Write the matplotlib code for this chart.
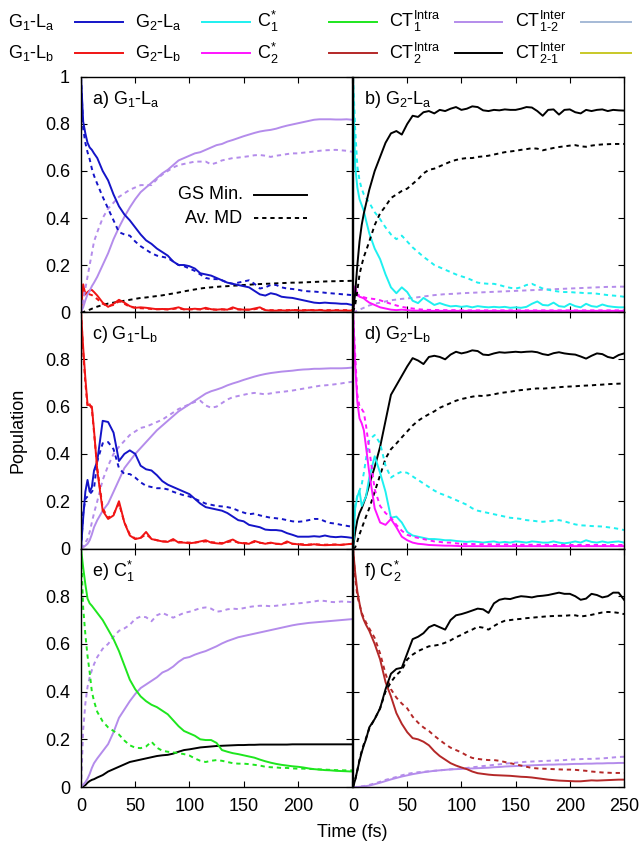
import matplotlib
matplotlib.use("Agg")
import matplotlib.pyplot as plt
from matplotlib.lines import Line2D

plt.rcParams['font.family'] = ['Liberation Sans', 'DejaVu Sans']
plt.rcParams['mathtext.fontset'] = 'custom'
plt.rcParams['mathtext.rm'] = 'Liberation Sans'
plt.rcParams['mathtext.it'] = 'Liberation Sans'
plt.rcParams['font.size'] = 13

# time grid (fs)
t = [0, 2, 4, 6, 8, 10, 12, 15,
     20, 25, 30, 35, 40, 45, 50, 55, 60, 65,
     70, 75, 80, 85, 90, 95, 100, 105, 110, 115,
     120, 125, 130, 135, 140, 145, 150, 155, 160, 165,
     170, 175, 180, 185, 190, 195, 200, 205, 210, 215,
     220, 225, 230, 235, 240, 245, 250]

# ---- panel a) G1-La ----
a_g1la_gs = [1.0, 0.81, 0.76, 0.72, 0.70, 0.69, 0.675, 0.655,
             0.60, 0.56, 0.50, 0.45, 0.415, 0.39, 0.36, 0.33, 0.305, 0.29,
             0.27, 0.255, 0.24, 0.215, 0.20, 0.20, 0.195, 0.185, 0.165, 0.16,
             0.155, 0.145, 0.135, 0.125, 0.12, 0.115, 0.11, 0.105, 0.09, 0.075,
             0.07, 0.08, 0.075, 0.065, 0.062, 0.06, 0.055, 0.05, 0.045, 0.04,
             0.038, 0.04, 0.038, 0.037, 0.035, 0.035, 0.03]
a_g1la_md = [1.0, 0.78, 0.72, 0.68, 0.65, 0.61, 0.58, 0.545,
             0.49, 0.44, 0.39, 0.34, 0.33, 0.325, 0.30, 0.28, 0.265, 0.25,
             0.24, 0.235, 0.23, 0.215, 0.20, 0.195, 0.185, 0.175, 0.16, 0.145,
             0.14, 0.14, 0.135, 0.125, 0.12, 0.125, 0.13, 0.135, 0.12, 0.10,
             0.105, 0.115, 0.115, 0.105, 0.10, 0.098, 0.095, 0.09, 0.088, 0.087,
             0.085, 0.082, 0.08, 0.078, 0.076, 0.074, 0.072]
a_g1lb_gs = [0.0, 0.118, 0.075, 0.085, 0.092, 0.094, 0.085, 0.07,
             0.04, 0.022, 0.035, 0.052, 0.04, 0.025, 0.018, 0.02, 0.018, 0.015,
             0.012, 0.013, 0.012, 0.015, 0.02, 0.012, 0.012, 0.014, 0.012, 0.018,
             0.012, 0.01, 0.012, 0.01, 0.02, 0.012, 0.01, 0.01, 0.015, 0.02,
             0.008, 0.006, 0.006, 0.007, 0.006, 0.008, 0.007, 0.006, 0.008, 0.007,
             0.008, 0.006, 0.006, 0.007, 0.006, 0.006, 0.006]
a_g1lb_md = [0.0, 0.06, 0.085, 0.08, 0.075, 0.072, 0.065, 0.055,
             0.035, 0.025, 0.03, 0.045, 0.035, 0.022, 0.018, 0.016, 0.015, 0.013,
             0.012, 0.012, 0.011, 0.013, 0.016, 0.011, 0.011, 0.012, 0.011, 0.014,
             0.011, 0.01, 0.011, 0.01, 0.015, 0.011, 0.01, 0.01, 0.012, 0.016,
             0.009, 0.008, 0.008, 0.008, 0.008, 0.009, 0.008, 0.008, 0.009, 0.008,
             0.009, 0.008, 0.008, 0.008, 0.008, 0.008, 0.008]
a_ct1_gs = [0.0, 0.02, 0.05, 0.075, 0.09, 0.11, 0.125, 0.15,
            0.2, 0.25, 0.31, 0.36, 0.405, 0.445, 0.48, 0.51, 0.53, 0.55,
            0.57, 0.59, 0.605, 0.625, 0.645, 0.655, 0.665, 0.675, 0.68, 0.69,
            0.70, 0.71, 0.715, 0.725, 0.732, 0.74, 0.748, 0.755, 0.762, 0.768,
            0.772, 0.775, 0.78, 0.787, 0.793, 0.798, 0.803, 0.808, 0.813, 0.818,
            0.82, 0.82, 0.82, 0.819, 0.819, 0.82, 0.818]
a_ct1_md = [0.0, 0.05, 0.1, 0.15, 0.2, 0.25, 0.3, 0.34,
            0.4, 0.44, 0.465, 0.49, 0.505, 0.52, 0.53, 0.54, 0.54, 0.54,
            0.565, 0.585, 0.60, 0.615, 0.625, 0.63, 0.635, 0.64, 0.64, 0.64,
            0.628, 0.635, 0.645, 0.65, 0.655, 0.657, 0.66, 0.663, 0.667, 0.668,
            0.665, 0.66, 0.665, 0.668, 0.672, 0.675, 0.675, 0.678, 0.68, 0.683,
            0.686, 0.688, 0.689, 0.69, 0.688, 0.686, 0.682]
a_ct2_md = [0.0, 0.0, 0.003, 0.006, 0.01, 0.014, 0.018, 0.023,
            0.03, 0.036, 0.04, 0.044, 0.048, 0.052, 0.056, 0.06, 0.062, 0.065,
            0.068, 0.071, 0.075, 0.079, 0.083, 0.088, 0.092, 0.096, 0.1, 0.103,
            0.105, 0.107, 0.109, 0.11, 0.112, 0.113, 0.115, 0.116, 0.118, 0.119,
            0.12, 0.121, 0.122, 0.123, 0.124, 0.125, 0.125, 0.126, 0.127, 0.128,
            0.129, 0.13, 0.131, 0.131, 0.132, 0.132, 0.133]

# ---- panel b) G2-La ----
b_ct2_gs = [0.0, 0.08, 0.2, 0.3, 0.37, 0.42, 0.46, 0.52,
            0.6, 0.66, 0.72, 0.76, 0.77, 0.755, 0.8, 0.835, 0.83, 0.85,
            0.855, 0.845, 0.86, 0.855, 0.865, 0.872, 0.86, 0.865, 0.875, 0.872,
            0.858, 0.855, 0.86, 0.858, 0.862, 0.86, 0.86, 0.865, 0.872, 0.87,
            0.855, 0.835, 0.86, 0.862, 0.84, 0.86, 0.862, 0.85, 0.845, 0.86,
            0.855, 0.86, 0.862, 0.855, 0.86, 0.858, 0.857]
b_ct2_md = [0.0, 0.03, 0.09, 0.16, 0.2, 0.235, 0.26, 0.3,
            0.37, 0.42, 0.45, 0.485, 0.5, 0.515, 0.525, 0.545, 0.565, 0.59,
            0.605, 0.61, 0.62, 0.63, 0.64, 0.647, 0.652, 0.655, 0.655, 0.66,
            0.662, 0.665, 0.67, 0.675, 0.68, 0.683, 0.686, 0.69, 0.693, 0.697,
            0.695, 0.688, 0.693, 0.698, 0.702, 0.705, 0.708, 0.71, 0.705, 0.703,
            0.708, 0.711, 0.713, 0.714, 0.715, 0.715, 0.715]
b_g2la_gs = [1.0, 0.62, 0.53, 0.48, 0.455, 0.43, 0.39, 0.335,
             0.27, 0.225, 0.16, 0.105, 0.08, 0.105, 0.085, 0.048, 0.038, 0.06,
             0.045, 0.03, 0.038, 0.03, 0.024, 0.026, 0.022, 0.025, 0.02, 0.025,
             0.022, 0.02, 0.022, 0.02, 0.022, 0.018, 0.02, 0.018, 0.022, 0.035,
             0.045, 0.03, 0.028, 0.04, 0.025, 0.022, 0.035, 0.025, 0.02, 0.035,
             0.025, 0.022, 0.032, 0.025, 0.022, 0.02, 0.02]
b_g2la_md = [1.0, 0.78, 0.62, 0.56, 0.525, 0.5, 0.485, 0.465,
             0.425, 0.395, 0.36, 0.33, 0.31, 0.325, 0.3, 0.275, 0.255, 0.235,
             0.218, 0.2, 0.19, 0.18, 0.17, 0.16, 0.152, 0.145, 0.135, 0.125,
             0.122, 0.12, 0.12, 0.115, 0.108, 0.103, 0.1, 0.105, 0.115, 0.12,
             0.11, 0.1, 0.095, 0.09, 0.087, 0.085, 0.085, 0.083, 0.082, 0.08,
             0.08, 0.078, 0.075, 0.072, 0.07, 0.068, 0.065]
b_g2lb_gs = [0.0, 0.11, 0.075, 0.065, 0.062, 0.058, 0.05, 0.04,
             0.03, 0.02, 0.015, 0.01, 0.008, 0.01, 0.008, 0.006, 0.006, 0.005,
             0.005, 0.005, 0.005, 0.005, 0.005, 0.005, 0.005, 0.005, 0.005, 0.005,
             0.005, 0.005, 0.005, 0.005, 0.005, 0.005, 0.005, 0.005, 0.005, 0.005,
             0.005, 0.005, 0.005, 0.005, 0.005, 0.005, 0.005, 0.005, 0.005, 0.005,
             0.005, 0.005, 0.005, 0.005, 0.005, 0.005, 0.005]
b_g2lb_md = [0.0, 0.05, 0.075, 0.07, 0.065, 0.063, 0.06, 0.058,
             0.055, 0.05, 0.042, 0.035, 0.028, 0.022, 0.018, 0.015, 0.012, 0.01,
             0.009, 0.009, 0.008, 0.008, 0.008, 0.008, 0.007, 0.007, 0.007, 0.007,
             0.007, 0.007, 0.007, 0.007, 0.007, 0.007, 0.007, 0.007, 0.007, 0.007,
             0.007, 0.007, 0.007, 0.007, 0.007, 0.007, 0.007, 0.007, 0.007, 0.007,
             0.007, 0.007, 0.007, 0.007, 0.007, 0.007, 0.007]
b_ct1_md = [0.0, 0.002, 0.005, 0.01, 0.014, 0.018, 0.022, 0.028,
            0.035, 0.04, 0.045, 0.05, 0.053, 0.056, 0.058, 0.06, 0.063, 0.066,
            0.069, 0.072, 0.074, 0.076, 0.077, 0.078, 0.08, 0.081, 0.082, 0.083,
            0.084, 0.085, 0.086, 0.087, 0.088, 0.089, 0.09, 0.091, 0.092, 0.093,
            0.094, 0.095, 0.096, 0.097, 0.098, 0.099, 0.1, 0.101, 0.102, 0.103,
            0.104, 0.105, 0.106, 0.107, 0.107, 0.108, 0.108]

# ---- panel c) G1-Lb ----
c_g1lb_gs = [1.0, 0.85, 0.72, 0.61, 0.605, 0.6, 0.5, 0.33,
             0.16, 0.125, 0.14, 0.2, 0.11, 0.055, 0.04, 0.045, 0.07, 0.04,
             0.035, 0.03, 0.028, 0.04, 0.025, 0.025, 0.022, 0.025, 0.03, 0.035,
             0.025, 0.022, 0.02, 0.03, 0.038, 0.025, 0.022, 0.02, 0.032, 0.025,
             0.02, 0.025, 0.02, 0.018, 0.03, 0.02, 0.018, 0.015, 0.015, 0.018,
             0.015, 0.014, 0.015, 0.016, 0.015, 0.018, 0.02]
c_g1lb_md = [1.0, 0.83, 0.7, 0.6, 0.61, 0.59, 0.49, 0.34,
             0.17, 0.13, 0.145, 0.19, 0.11, 0.06, 0.042, 0.045, 0.06, 0.042,
             0.035, 0.03, 0.03, 0.035, 0.028, 0.027, 0.025, 0.025, 0.028, 0.03,
             0.027, 0.025, 0.023, 0.027, 0.032, 0.025, 0.023, 0.022, 0.028, 0.024,
             0.022, 0.023, 0.02, 0.02, 0.025, 0.02, 0.019, 0.018, 0.017, 0.018,
             0.017, 0.016, 0.017, 0.017, 0.016, 0.018, 0.02]
c_g1la_gs = [0.0, 0.13, 0.24, 0.29, 0.24, 0.26, 0.33, 0.37,
             0.54, 0.535, 0.49, 0.37, 0.40, 0.415, 0.40, 0.35, 0.335, 0.33,
             0.31, 0.285, 0.27, 0.26, 0.25, 0.24, 0.23, 0.21, 0.19, 0.175,
             0.17, 0.165, 0.16, 0.15, 0.135, 0.12, 0.115, 0.1, 0.095, 0.09,
             0.08, 0.078, 0.078, 0.075, 0.065, 0.058, 0.05, 0.05, 0.05, 0.052,
             0.05, 0.055, 0.05, 0.048, 0.05, 0.048, 0.045]
c_g1la_md = [0.0, 0.15, 0.21, 0.22, 0.23, 0.24, 0.255, 0.37,
             0.445, 0.45, 0.42, 0.34, 0.315, 0.315, 0.3, 0.28, 0.265, 0.26,
             0.255, 0.255, 0.25, 0.24, 0.232, 0.225, 0.22, 0.21, 0.2, 0.19,
             0.185, 0.18, 0.178, 0.175, 0.17, 0.16, 0.152, 0.145, 0.148, 0.14,
             0.135, 0.13, 0.128, 0.125, 0.12, 0.115, 0.113, 0.115, 0.12, 0.125,
             0.125, 0.115, 0.108, 0.105, 0.1, 0.096, 0.092]
c_ct1_gs = [0.0, 0.005, 0.012, 0.02, 0.035, 0.06, 0.09, 0.12,
            0.16, 0.19, 0.24, 0.29, 0.34, 0.37, 0.40, 0.425, 0.45, 0.475,
            0.50, 0.52, 0.54, 0.56, 0.58, 0.595, 0.61, 0.625, 0.64, 0.655,
            0.665, 0.672, 0.68, 0.69, 0.698, 0.705, 0.713, 0.72, 0.727, 0.733,
            0.738, 0.742, 0.745, 0.748, 0.75, 0.752, 0.755, 0.757, 0.758, 0.76,
            0.76, 0.761, 0.762, 0.762, 0.762, 0.763, 0.765]
c_ct1_md = [0.0, 0.01, 0.025, 0.04, 0.07, 0.11, 0.15, 0.2,
            0.29, 0.35, 0.4, 0.43, 0.455, 0.48, 0.495, 0.51, 0.515, 0.525,
            0.535, 0.545, 0.56, 0.575, 0.59, 0.6, 0.61, 0.62, 0.625, 0.605,
            0.595, 0.6, 0.615, 0.63, 0.64, 0.645, 0.65, 0.655, 0.658, 0.655,
            0.652, 0.656, 0.66, 0.662, 0.665, 0.668, 0.672, 0.676, 0.68, 0.684,
            0.688, 0.69, 0.692, 0.695, 0.698, 0.702, 0.705]

# ---- panel d) G2-Lb ----
d_g2lb_gs = [1.0, 0.78, 0.62, 0.55, 0.53, 0.5, 0.43, 0.32,
             0.17, 0.11, 0.1, 0.125, 0.09, 0.05, 0.035, 0.025, 0.02, 0.018,
             0.015, 0.014, 0.013, 0.012, 0.012, 0.011, 0.01, 0.01, 0.01, 0.01,
             0.01, 0.01, 0.01, 0.01, 0.01, 0.01, 0.01, 0.01, 0.01, 0.01,
             0.01, 0.01, 0.01, 0.01, 0.01, 0.01, 0.01, 0.01, 0.01, 0.01,
             0.01, 0.01, 0.01, 0.01, 0.01, 0.01, 0.01]
d_g2lb_md = [1.0, 0.82, 0.65, 0.6, 0.59, 0.575, 0.52, 0.42,
             0.25, 0.18, 0.15, 0.13, 0.1, 0.075, 0.058, 0.05, 0.045, 0.04,
             0.035, 0.03, 0.028, 0.025, 0.025, 0.022, 0.02, 0.019, 0.019, 0.018,
             0.018, 0.018, 0.017, 0.017, 0.017, 0.017, 0.016, 0.016, 0.016, 0.016,
             0.016, 0.016, 0.015, 0.015, 0.015, 0.015, 0.015, 0.015, 0.015, 0.015,
             0.015, 0.015, 0.015, 0.015, 0.015, 0.015, 0.015]
d_g2la_gs = [0.0, 0.17, 0.22, 0.245, 0.18, 0.2, 0.22, 0.3,
             0.39, 0.32, 0.24, 0.13, 0.135, 0.11, 0.07, 0.055, 0.05, 0.045,
             0.04, 0.04, 0.038, 0.035, 0.035, 0.032, 0.03, 0.028, 0.03, 0.028,
             0.025, 0.028, 0.03, 0.025, 0.028, 0.025, 0.03, 0.028, 0.025, 0.03,
             0.028, 0.025, 0.025, 0.03, 0.025, 0.022, 0.025, 0.03, 0.025, 0.035,
             0.028, 0.025, 0.03, 0.025, 0.028, 0.03, 0.025]
d_g2la_md = [0.0, 0.18, 0.225, 0.245, 0.27, 0.32, 0.38, 0.46,
             0.48, 0.445, 0.35, 0.3, 0.315, 0.325, 0.32, 0.305, 0.29, 0.275,
             0.26, 0.245, 0.233, 0.225, 0.215, 0.205, 0.195, 0.185, 0.17, 0.16,
             0.155, 0.15, 0.145, 0.14, 0.135, 0.13, 0.128, 0.125, 0.12, 0.118,
             0.115, 0.113, 0.115, 0.118, 0.12, 0.115, 0.108, 0.102, 0.098, 0.097,
             0.095, 0.094, 0.093, 0.09, 0.087, 0.083, 0.078]
d_ct2_gs = [0.0, 0.07, 0.12, 0.15, 0.17, 0.195, 0.22, 0.27,
            0.345, 0.43, 0.54, 0.65, 0.69, 0.73, 0.77, 0.805, 0.795, 0.78,
            0.81, 0.815, 0.81, 0.8, 0.82, 0.832, 0.825, 0.83, 0.838, 0.835,
            0.82, 0.818, 0.825, 0.83, 0.828, 0.83, 0.832, 0.83, 0.832, 0.833,
            0.83, 0.822, 0.818, 0.826, 0.83, 0.825, 0.822, 0.82, 0.812, 0.803,
            0.815, 0.825, 0.822, 0.81, 0.805, 0.818, 0.825]
d_ct2_md = [0.0, 0.005, 0.03, 0.06, 0.085, 0.11, 0.135, 0.17,
            0.24, 0.31, 0.38, 0.42, 0.444, 0.47, 0.495, 0.52, 0.54, 0.555,
            0.568, 0.58, 0.595, 0.605, 0.615, 0.625, 0.632, 0.637, 0.642, 0.646,
            0.645, 0.648, 0.652, 0.657, 0.66, 0.663, 0.667, 0.67, 0.672, 0.675,
            0.677, 0.676, 0.678, 0.68, 0.682, 0.684, 0.685, 0.686, 0.688, 0.689,
            0.69, 0.692, 0.693, 0.695, 0.696, 0.697, 0.698]

# ---- panel e) C1* ----
e_c1_gs = [1.0, 0.92, 0.85, 0.79, 0.77, 0.76, 0.748, 0.73,
           0.7, 0.66, 0.62, 0.57, 0.51, 0.45, 0.41, 0.38, 0.36, 0.345,
           0.335, 0.32, 0.305, 0.28, 0.255, 0.235, 0.225, 0.215, 0.2, 0.197,
           0.197, 0.185, 0.155, 0.148, 0.142, 0.138, 0.133, 0.128, 0.123, 0.115,
           0.108, 0.102, 0.097, 0.093, 0.09, 0.087, 0.085, 0.082, 0.078, 0.075,
           0.073, 0.071, 0.07, 0.068, 0.067, 0.066, 0.065]
e_c1_md = [1.0, 0.75, 0.64, 0.55, 0.48, 0.4, 0.36, 0.315,
           0.275, 0.25, 0.235, 0.22, 0.195, 0.175, 0.165, 0.163, 0.17, 0.19,
           0.165, 0.152, 0.148, 0.145, 0.142, 0.138, 0.132, 0.12, 0.11, 0.105,
           0.11, 0.113, 0.11, 0.105, 0.1, 0.098, 0.098, 0.096, 0.093, 0.09,
           0.085, 0.083, 0.082, 0.08, 0.08, 0.078, 0.077, 0.077, 0.076, 0.075,
           0.074, 0.073, 0.072, 0.071, 0.07, 0.07, 0.07]
e_ct1_gs = [0.0, 0.01, 0.02, 0.035, 0.055, 0.08, 0.1, 0.12,
            0.15, 0.18, 0.23, 0.29, 0.325, 0.36, 0.39, 0.415, 0.43, 0.445,
            0.46, 0.48, 0.49, 0.505, 0.525, 0.54, 0.545, 0.555, 0.563, 0.57,
            0.58, 0.59, 0.602, 0.612, 0.62, 0.628, 0.633, 0.638, 0.643, 0.648,
            0.653, 0.658, 0.663, 0.668, 0.673, 0.678, 0.682, 0.685, 0.688, 0.69,
            0.692, 0.694, 0.696, 0.698, 0.7, 0.702, 0.704]
e_ct1_md = [0.0, 0.24, 0.35, 0.42, 0.46, 0.49, 0.515, 0.545,
            0.58, 0.6, 0.63, 0.655, 0.665, 0.68, 0.705, 0.715, 0.712, 0.695,
            0.72, 0.73, 0.72, 0.71, 0.72, 0.73, 0.735, 0.742, 0.75, 0.753,
            0.748, 0.735, 0.738, 0.745, 0.748, 0.746, 0.75, 0.755, 0.758, 0.76,
            0.76, 0.758, 0.76, 0.763, 0.766, 0.768, 0.77, 0.772, 0.775, 0.778,
            0.782, 0.78, 0.776, 0.775, 0.778, 0.777, 0.775]
e_ct2_gs = [0.0, 0.003, 0.008, 0.018, 0.025, 0.03, 0.033, 0.04,
            0.05, 0.065, 0.075, 0.085, 0.095, 0.105, 0.11, 0.115, 0.12, 0.125,
            0.13, 0.133, 0.135, 0.14, 0.148, 0.155, 0.158, 0.162, 0.166, 0.168,
            0.17, 0.172, 0.173, 0.174, 0.175, 0.176, 0.176, 0.177, 0.177, 0.178,
            0.178, 0.178, 0.178, 0.178, 0.178, 0.179, 0.179, 0.179, 0.179, 0.179,
            0.179, 0.179, 0.179, 0.179, 0.179, 0.179, 0.179]

# ---- panel f) C2* ----
f_c2_gs = [1.0, 0.9, 0.82, 0.77, 0.725, 0.7, 0.68, 0.655,
           0.6, 0.535, 0.44, 0.38, 0.31, 0.265, 0.23, 0.205, 0.2, 0.19,
           0.175, 0.15, 0.13, 0.115, 0.1, 0.09, 0.082, 0.075, 0.065, 0.058,
           0.055, 0.052, 0.05, 0.049, 0.048, 0.047, 0.045, 0.043, 0.042, 0.04,
           0.037, 0.034, 0.031, 0.029, 0.027, 0.026, 0.025, 0.024, 0.024, 0.026,
           0.028, 0.027, 0.028, 0.029, 0.03, 0.031, 0.031]
f_c2_md = [1.0, 0.88, 0.8, 0.765, 0.73, 0.71, 0.69, 0.665,
           0.625, 0.56, 0.475, 0.41, 0.375, 0.35, 0.33, 0.295, 0.27, 0.25,
           0.235, 0.215, 0.197, 0.18, 0.165, 0.155, 0.145, 0.132, 0.122, 0.118,
           0.115, 0.113, 0.113, 0.11, 0.105, 0.1, 0.095, 0.09, 0.085, 0.08,
           0.078, 0.077, 0.076, 0.075, 0.074, 0.073, 0.073, 0.072, 0.07, 0.068,
           0.065, 0.063, 0.061, 0.06, 0.059, 0.059, 0.059]
f_ct2_gs = [0.0, 0.03, 0.07, 0.11, 0.145, 0.175, 0.2, 0.25,
            0.285, 0.33, 0.41, 0.475, 0.495, 0.5, 0.56, 0.62, 0.63, 0.645,
            0.67, 0.68, 0.67, 0.66, 0.7, 0.72, 0.725, 0.732, 0.74, 0.748,
            0.745, 0.73, 0.77, 0.785, 0.79, 0.788, 0.795, 0.8, 0.798, 0.795,
            0.8, 0.802, 0.805, 0.81, 0.815, 0.81, 0.81, 0.8, 0.785, 0.79,
            0.81, 0.805, 0.795, 0.8, 0.815, 0.815, 0.785]
f_ct2_md = [0.0, 0.03, 0.07, 0.115, 0.15, 0.18, 0.205, 0.245,
            0.285, 0.33, 0.4, 0.44, 0.47, 0.49, 0.535, 0.555, 0.57, 0.58,
            0.59, 0.593, 0.597, 0.605, 0.615, 0.628, 0.638, 0.65, 0.66, 0.672,
            0.668, 0.66, 0.675, 0.688, 0.697, 0.7, 0.703, 0.705, 0.708, 0.71,
            0.712, 0.714, 0.716, 0.717, 0.718, 0.718, 0.72, 0.72, 0.715, 0.718,
            0.722, 0.727, 0.732, 0.734, 0.733, 0.73, 0.725]
f_ct1_gs = [0.0, 0.0, 0.0, 0.001, 0.002, 0.003, 0.004, 0.006,
            0.012, 0.018, 0.025, 0.032, 0.038, 0.044, 0.049, 0.054, 0.058, 0.062,
            0.065, 0.068, 0.07, 0.072, 0.074, 0.075, 0.076, 0.077, 0.078, 0.079,
            0.08, 0.081, 0.083, 0.084, 0.086, 0.087, 0.088, 0.089, 0.09, 0.091,
            0.092, 0.093, 0.094, 0.094, 0.095, 0.095, 0.096, 0.097, 0.097, 0.098,
            0.098, 0.099, 0.099, 0.1, 0.1, 0.101, 0.101]
f_ct1_md = [0.0, 0.0, 0.001, 0.002, 0.003, 0.004, 0.006, 0.009,
            0.015, 0.022, 0.03, 0.036, 0.042, 0.049, 0.055, 0.059, 0.062, 0.064,
            0.066, 0.068, 0.07, 0.072, 0.074, 0.076, 0.078, 0.08, 0.083, 0.085,
            0.088, 0.09, 0.093, 0.095, 0.098, 0.1, 0.102, 0.104, 0.106, 0.107,
            0.108, 0.109, 0.11, 0.111, 0.112, 0.113, 0.115, 0.116, 0.117, 0.118,
            0.118, 0.119, 0.12, 0.122, 0.124, 0.126, 0.127]

# colours (gnuplot-like)
BLUE = '#1414c8'
RED = '#f01414'
CYAN = '#1ef0f0'
MAGENTA = '#ff14ff'
GREEN = '#1ee61e'
BROWN = '#b42828'
VIOLET = '#b48ceb'
STEEL = '#a5bad6'
OLIVE = '#c8c828'
BLACK = '#000000'

DASH = (0, (2.2, 2.0))
LW = 1.4

fig = plt.figure(figsize=(6.43, 8.44), dpi=100)

xl, xr, w = 0.126, 0.549, 0.4215
rows = [(0.6303, 0.2785), (0.3501, 0.2802), (0.0675, 0.2826)]

panels = [
    ('a', 0, 0, r'a) G$_\mathrm{1}$-L$_\mathrm{a}$',
     [(a_ct2_md, BLACK, DASH), (a_g1lb_md, RED, DASH), (a_g1lb_gs, RED, '-'),
      (a_ct1_md, VIOLET, DASH), (a_ct1_gs, VIOLET, '-'),
      (a_g1la_md, BLUE, DASH), (a_g1la_gs, BLUE, '-')]),
    ('b', 0, 1, r'b) G$_\mathrm{2}$-L$_\mathrm{a}$',
     [(b_ct1_md, VIOLET, DASH), (b_g2lb_md, MAGENTA, DASH), (b_g2lb_gs, MAGENTA, '-'),
      (b_g2la_md, CYAN, DASH), (b_g2la_gs, CYAN, '-'),
      (b_ct2_md, BLACK, DASH), (b_ct2_gs, BLACK, '-')]),
    ('c', 1, 0, r'c) G$_\mathrm{1}$-L$_\mathrm{b}$',
     [(c_ct1_md, VIOLET, DASH), (c_ct1_gs, VIOLET, '-'),
      (c_g1la_md, BLUE, DASH), (c_g1la_gs, BLUE, '-'),
      (c_g1lb_md, RED, DASH), (c_g1lb_gs, RED, '-')]),
    ('d', 1, 1, r'd) G$_\mathrm{2}$-L$_\mathrm{b}$',
     [(d_ct2_md, BLACK, DASH), (d_ct2_gs, BLACK, '-'),
      (d_g2la_md, CYAN, DASH), (d_g2la_gs, CYAN, '-'),
      (d_g2lb_md, MAGENTA, DASH), (d_g2lb_gs, MAGENTA, '-')]),
    ('e', 2, 0, r'e) C$_\mathrm{1}^\mathrm{*}$',
     [(e_ct2_gs, BLACK, '-'), (e_ct1_md, VIOLET, DASH), (e_ct1_gs, VIOLET, '-'),
      (e_c1_md, GREEN, DASH), (e_c1_gs, GREEN, '-')]),
    ('f', 2, 1, r'f) C$_\mathrm{2}^\mathrm{*}$',
     [(f_ct1_md, VIOLET, DASH), (f_ct1_gs, VIOLET, '-'),
      (f_c2_md, BROWN, DASH), (f_c2_gs, BROWN, '-'),
      (f_ct2_md, BLACK, DASH), (f_ct2_gs, BLACK, '-')]),
]

axes = {}
for key, r, c, label, curves in panels:
    b, h = rows[r]
    ax = fig.add_axes([xl if c == 0 else xr, b, w, h])
    axes[key] = ax
    for vals, col, ls in curves:
        ax.plot(t, vals, color=col, ls=ls, lw=LW)
    ax.set_xlim(0, 250)
    ax.set_ylim(0, 1)
    ax.set_xticks([0, 50, 100, 150, 200, 250])
    ax.set_yticks([0, 0.2, 0.4, 0.6, 0.8, 1.0])
    ax.tick_params(direction='in', length=4, width=0.8, top=True, right=True,
                   labelsize=13, pad=8)
    for s in ax.spines.values():
        s.set_linewidth(1.0)
    ax.text(0.042, 0.905, label, transform=ax.transAxes, fontsize=13,
            ha='left', va='center')

    if c == 0:
        ylabs = ['0', '0.2', '0.4', '0.6', '0.8', '1' if r == 0 else '']
        ax.set_yticklabels(ylabs)
    else:
        ax.set_yticklabels([])
    if r == 2:
        if c == 0:
            ax.set_xticklabels(['0', '50', '100', '150', '200', ''])
        else:
            ax.set_xticklabels(['0', '50', '100', '150', '200', '250'])
    else:
        ax.set_xticklabels([])

# line style key inside panel a
axa = axes['a']
axa.text(0.596, 0.498, 'GS Min.', transform=axa.transAxes, ha='right', va='center')
axa.plot([0.64, 0.835], [0.498, 0.498], transform=axa.transAxes, color=BLACK, lw=LW)
axa.text(0.596, 0.40, 'Av. MD', transform=axa.transAxes, ha='right', va='center')
axa.plot([0.64, 0.835], [0.40, 0.40], transform=axa.transAxes, color=BLACK, lw=LW, ls=DASH)

fig.text(0.028, 0.49, 'Population', rotation=90, ha='center', va='center')
fig.text(0.548, 0.014, 'Time (fs)', ha='center', va='center')

# top colour key
key_rows = [
    [(r'G$_\mathrm{1}$-L$_\mathrm{a}$', BLUE), (r'G$_\mathrm{2}$-L$_\mathrm{a}$', CYAN),
     (r'C$_\mathrm{1}^\mathrm{*}$', GREEN), (r'CT$_\mathrm{1}^\mathrm{Intra}$', VIOLET),
     (r'CT$_\mathrm{1\text{-}2}^\mathrm{Inter}$', STEEL)],
    [(r'G$_\mathrm{1}$-L$_\mathrm{b}$', RED), (r'G$_\mathrm{2}$-L$_\mathrm{b}$', MAGENTA),
     (r'C$_\mathrm{2}^\mathrm{*}$', BROWN), (r'CT$_\mathrm{2}^\mathrm{Intra}$', BLACK),
     (r'CT$_\mathrm{2\text{-}1}^\mathrm{Inter}$', OLIVE)],
]
text_x = [8, 135, 257, 389, 515]
line_x = [(75, 123), (202, 250), (329, 377), (455, 502), (581, 631)]
for yy, row in zip([0.974, 0.937], key_rows):
    for (lab, col), tx, (l0, l1) in zip(row, text_x, line_x):
        fig.text(tx / 643, yy, lab, ha='left', va='center', fontsize=13)
        fig.add_artist(Line2D([l0 / 643, l1 / 643], [yy, yy], color=col, lw=LW,
                              transform=fig.transFigure))

fig.savefig('out.png', dpi=100)
